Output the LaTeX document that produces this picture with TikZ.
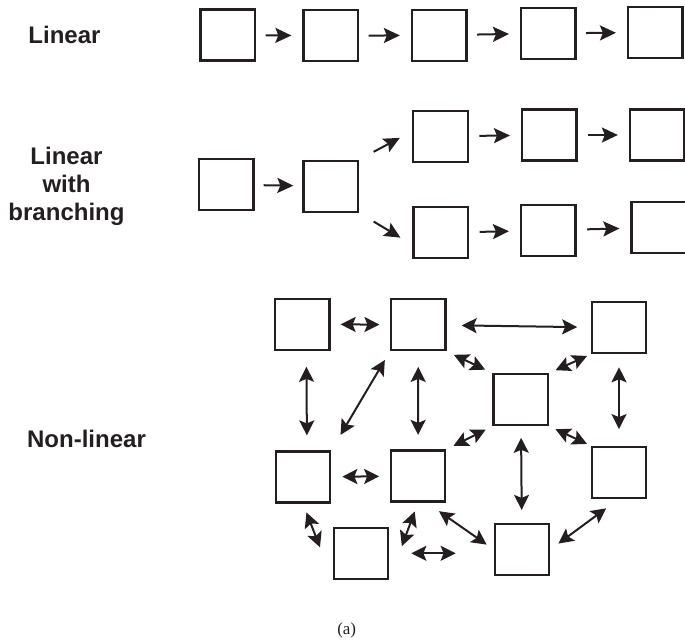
\documentclass[tikz,border=0pt]{standalone}
\usepackage{fontspec}
\usepackage{tikz}
\usetikzlibrary{arrows.meta}
\newfontfamily\labelfont{Liberation Sans}
\newfontfamily\capfont{Liberation Serif}
\definecolor{ink}{HTML}{231F20}

\begin{document}
\begin{tikzpicture}[x=1pt, y=-1pt,
  box/.style={draw=ink, line width=2.2pt, minimum width=54.5pt, minimum height=51pt, inner sep=0pt},
  arr/.style={draw=ink, line width=2pt, -{Stealth[length=16pt, width=15pt, inset=3pt]}},
  dbl/.style={draw=ink, line width=2pt, {Stealth[length=15pt, width=15pt, inset=3pt]}-{Stealth[length=15pt, width=15pt, inset=3pt]}},
  lbl/.style={font=\labelfont\bfseries\fontsize{24}{28}\selectfont, text=ink, align=center, inner sep=0pt}]
  \useasboundingbox (0,0) rectangle (685,644);

  % linear
  \node[lbl, anchor=base] (tlin) at (64.5,43.3) {Linear};
  \foreach \n/\x/\y in {1/227.7/35, 2/330.7/35.8, 3/439.2/35.2, 4/548.3/33.3, 5/655.3/32.5}
    \node[box] (l\n) at (\x,\y) {};
  \foreach \a/\b in {1/2, 2/3, 3/4, 4/5}
    \draw[arr, shorten <=9.5pt, shorten >=11pt] (l\a) -- (l\b);

  % linear with branching
  \node[lbl] (tbranch) at (66.5,186) {Linear\\with\\branching};
  \node[box] (a1) at (226.3,184.7) {};
  \node[box] (a2) at (330.7,186.2) {};
  \node[box] (c1) at (440.5,136.3) {};
  \node[box] (c2) at (549.3,135) {};
  \node[box] (c3) at (657.2,135) {};
  \node[box] (d1) at (440.8,232.8) {};
  \node[box] (d2) at (548.3,230.3) {};
  \node[box] (d3) at (658.7,227.5) {};
  \draw[arr, shorten <=9pt, shorten >=9pt] (a1) -- (a2);
  \draw[arr, shorten <=16.5pt, shorten >=14pt] (a2.north east) -- (c1.170);
  \draw[arr, shorten <=17pt, shorten >=14pt] (a2.south east) -- (d1.-157);
  \foreach \a/\b in {c1/c2, c2/c3, d1/d2, d2/d3}
    \draw[arr, shorten <=10.5pt, shorten >=11pt] (\a) -- (\b);

  % non-linear
  \node[lbl, anchor=base] (tnonlin) at (86.5,447) {Non-linear};
  \foreach \n/\x/\y in {1/302.3/324.2, 2/418.3/324.8, 3/619/327.7, 4/520.8/399.7, 5/303/477,
                        6/418/476, 7/361/553.3, 8/619/472.2, 9/522/549.5}
    \node[box] (n\n) at (\x,\y) {};
  \draw[dbl, shorten <=10pt, shorten >=10.5pt] (n1) -- (n2);
  \draw[dbl, shorten <=15pt, shorten >=13.5pt] (n2) -- (n3);
  \draw[dbl, shorten <=16pt, shorten >=15pt] ([xshift=4pt]n1.south) -- ([xshift=4pt]n5.north);
  \draw[dbl, shorten <=15.5pt, shorten >=14.5pt] (n2) -- (n6);
  \draw[dbl, shorten <=13pt, shorten >=16.5pt] (n3) -- (n8);
  \draw[dbl, shorten <=11.5pt, shorten >=13pt] (n4) -- (n9);
  \draw[dbl, shorten <=11pt, shorten >=10.5pt] (n5) -- (n6);
  \draw[dbl, shorten <=22pt, shorten >=38pt] (n7) -- (n7 -| n9.west);
  \draw[dbl, shorten <=10pt, shorten >=18pt] (n2.south west) -- (n5.north east);
  \draw[dbl, shorten <=8pt, shorten >=8pt] (n2.south east) -- (n4.north west);
  \draw[dbl, shorten <=4pt, shorten >=7pt] (n3.south west) -- (n4.north east);
  \draw[dbl, shorten <=7.5pt, shorten >=8pt] (n4.south west) -- (n6.north east);
  \draw[dbl, shorten <=7pt, shorten >=4pt] (n4.south east) -- (n8.north west);
  \draw[dbl, shorten <=9.5pt, shorten >=35pt] (n5.south) -- (n7.south west);
  \draw[dbl, shorten <=9.5pt, shorten >=36pt] (n6.south) -- (n7.south east);
  \draw[dbl, shorten <=15pt, shorten >=8.5pt] (n6.-72) -- (n9.west);
  \draw[dbl, shorten <=16pt, shorten >=10pt] (n8.south) -- (n9.east);

  \node[font=\capfont\fontsize{17}{20}\selectfont, text=ink] (cap) at (346.7,630) {(a)};
\end{tikzpicture}
\end{document}
